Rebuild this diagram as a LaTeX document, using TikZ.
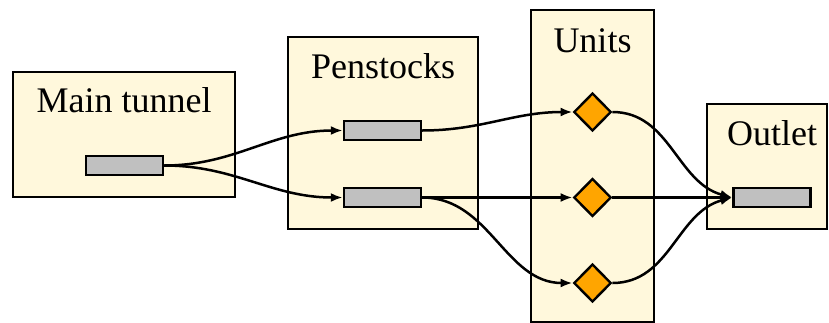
\documentclass[tikz,border=0pt]{standalone}
\usepackage{fontspec}
\setmainfont{Liberation Serif}
\usetikzlibrary{arrows.meta,shapes.geometric,positioning,fit}

\definecolor{clusterfill}{HTML}{FFF8DC}
\definecolor{pipefill}{HTML}{C0C0C0}
\definecolor{unitfill}{HTML}{FFA500}

\tikzset{
  cluster/.style={draw, line width=1.2pt, fill=clusterfill, inner sep=0pt},
  clabel/.style={anchor=base, inner sep=0pt, font=\fontsize{18}{22}\selectfont},
  pipe/.style={draw, line width=1.2pt, fill=pipefill, minimum width=38.5pt, minimum height=9.5pt, inner sep=0pt},
  unit/.style={diamond, draw, line width=1.2pt, fill=unitfill, minimum width=18.7pt, minimum height=19pt, inner sep=0pt},
  flow/.style={line width=1.25pt, -{Latex[length=6pt,width=4.5pt]}},
}

\begin{document}
\begin{tikzpicture}[x=0.5pt, y=-0.5pt]
        \useasboundingbox (0,0) rectangle (829,322);
        % clusters
        \node[cluster, fit={(13,72) (235,197)}] (tunnelbox) {};
        \node[cluster, fit={(288,37) (478,229)}] (penbox) {};
        \node[cluster, fit={(531,10) (654,322)}] (unitbox) {};
        \node[cluster, fit={(707,104) (827,229)}] (outletbox) {};
        \node[clabel] (tunnellabel) at (124,112) {Main tunnel};
        \node[clabel] (penlabel) at (383,78) {Penstocks};
        \node[clabel] (unitlabel) at (592.5,52) {Units};
        \node[clabel] (outletlabel) at (772,145) {Outlet};
        % pipes and units
        \node[pipe] (main) at (124.5,165.5) {};
        \node[pipe] (pen1) at (382.5,130.5) {};
        \node[pipe] (pen2) at (382.5,197.5) {};
        \node[unit] (unit1) at (592.5,112) {};
        \node[unit] (unit2) at (592.5,197.5) {};
        \node[unit] (unit3) at (592.5,283) {};
        \node[pipe] (outlet) at (772,197.5) {};
        % flows
        \draw[flow] (main.east) to[out=0, in=180] (pen1.west);
        \draw[flow] (main.east) to[out=0, in=180] (pen2.west);
        \draw[flow] (pen1.east) to[out=0, in=180] (unit1.west);
        \draw[flow] (pen2.east) -- (unit2.west);
        \draw[flow] (pen2.east) to[out=0, in=180] (unit3.west);
        \draw[flow] (unit1.east) to[out=0, in=165] (outlet.west);
        \draw[flow] (unit2.east) -- (outlet.west);
        \draw[flow] (unit3.east) to[out=0, in=195] (outlet.west);
\end{tikzpicture}
\end{document}
